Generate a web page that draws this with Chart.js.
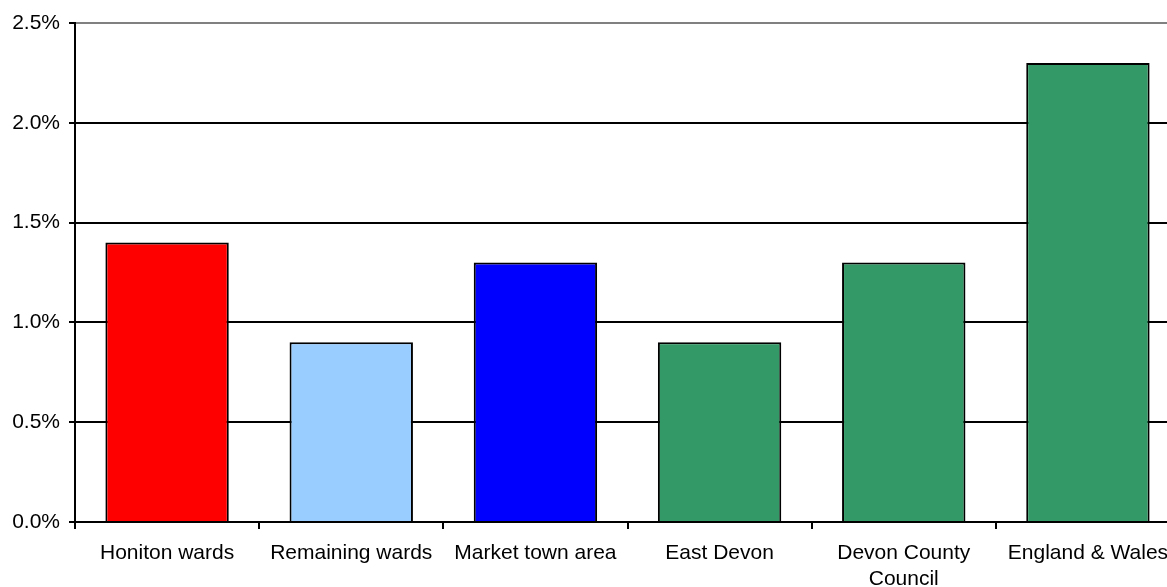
<!DOCTYPE html>
<html>
<head>
<meta charset="utf-8">
<script src="https://cdn.jsdelivr.net/npm/chart.js@4/dist/chart.umd.min.js"></script>
<style>
html, body { margin: 0; padding: 0; background: #fff; overflow: hidden; width: 1167px; height: 587px; }
#wrap { width: 1180px; height: 592px; }
</style>
</head>
<body>
<div id="wrap"><canvas id="c" width="1180" height="592"></canvas></div>
<script>
const categories = ['Honiton wards', 'Remaining wards', 'Market town area', 'East Devon', ['Devon County', 'Council'], 'England & Wales'];
const values = [1.4, 0.9, 1.3, 0.9, 1.3, 2.3];
const barColors = ['#ff0000', '#99ccff', '#0000ff', '#339966', '#339966', '#339966'];
const yTicks = [0, 0.5, 1.0, 1.5, 2.0, 2.5];

new Chart(document.getElementById('c'), {
  type: 'bar',
  data: {
    labels: categories,
    datasets: [{
      data: values,
      backgroundColor: barColors,
      borderColor: '#000',
      borderWidth: 2,
      borderSkipped: 'bottom',
      barPercentage: 0.67,
      categoryPercentage: 1.0
    }]
  },
  options: {
    responsive: false,
    devicePixelRatio: 1,
    animation: false,
    layout: { padding: { top: 23, right: 0, bottom: 0, left: 0 } },
    plugins: { legend: { display: false }, tooltip: { enabled: false } },
    scales: {
      x: {
        offset: true,
        afterFit: (s) => { s.height = 70; },
        grid: { offset: true, drawOnChartArea: false, tickLength: 7, tickColor: '#000', lineWidth: 2 },
        border: { color: '#000', width: 2 },
        ticks: { color: '#000', font: { family: 'Liberation Sans, Arial', size: 21, lineHeight: 1.24 }, padding: 11, maxRotation: 0, autoSkip: false }
      },
      y: {
        min: 0, max: 2.5,
        afterFit: (s) => { s.width = 75; },
        afterBuildTicks: (s) => { s.ticks = yTicks.map(v => ({ value: v })); },
        grid: {
          color: (ctx) => (ctx.tick && ctx.tick.value === 2.5) ? '#808080' : '#000',
          tickColor: '#000',
          lineWidth: 2,
          tickLength: 6
        },
        border: { color: '#000', width: 2 },
        ticks: {
          color: '#000',
          font: { family: 'Liberation Sans, Arial', size: 21 },
          padding: 9,
          callback: (v) => v.toFixed(1) + '%'
        }
      }
    }
  }
});
</script>
</body>
</html>
